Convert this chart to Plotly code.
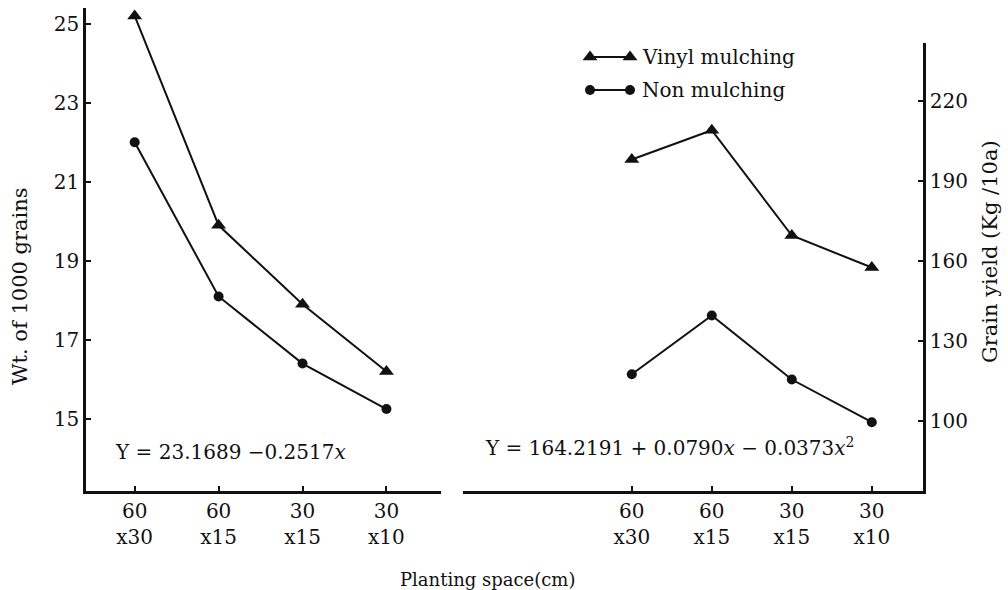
import plotly.graph_objects as go

# ---- data ----
spacing_labels = ["60<br>x30", "60<br>x15", "30<br>x15", "30<br>x10"]
positions = [0, 1, 2, 3]

wt_vinyl = [25.2, 19.9, 17.9, 16.2]
wt_non = [22.0, 18.1, 16.4, 15.25]

yield_vinyl = [198, 209, 169.5, 157.5]
yield_non = [117.5, 139.5, 115.5, 99.5]

series_names = ["Vinyl mulching", "Non mulching"]
eq_left = "Y = 23.1689 −0.2517<i>x</i>"
eq_right = "Y = 164.2191 + 0.0790<i>x</i> − 0.0373<i>x</i><sup>2</sup>"

W, H = 1008, 590
FONT = "DejaVu Serif"
BLACK = "#111111"

def px_x(p):
    return p / W

def px_y(p):
    return (H - p) / H

fig = go.Figure()

tri = dict(symbol="triangle-up", size=13, color=BLACK)
dot = dict(symbol="circle", size=10, color=BLACK)
line = dict(color=BLACK, width=2)

fig.add_trace(go.Scatter(x=positions, y=wt_vinyl, mode="lines+markers", marker=tri, line=line,
                         xaxis="x", yaxis="y", showlegend=False, name=series_names[0]))
fig.add_trace(go.Scatter(x=positions, y=wt_non, mode="lines+markers", marker=dot, line=line,
                         xaxis="x", yaxis="y", showlegend=False, name=series_names[1]))
fig.add_trace(go.Scatter(x=positions, y=yield_vinyl, mode="lines+markers", marker=tri, line=line,
                         xaxis="x2", yaxis="y2", showlegend=False, name=series_names[0]))
fig.add_trace(go.Scatter(x=positions, y=yield_non, mode="lines+markers", marker=dot, line=line,
                         xaxis="x2", yaxis="y2", showlegend=False, name=series_names[1]))

# custom legend (symbol - line - symbol), drawn on a pixel-space overlay axis
leg_x0, leg_x1 = 590, 630
leg_rows = [57, 90]
for name, mk, ly in zip(series_names, [tri, dot], leg_rows):
    fig.add_trace(go.Scatter(x=[leg_x0, leg_x1], y=[ly, ly], mode="lines+markers",
                             marker=mk, line=line, xaxis="x3", yaxis="y3",
                             showlegend=False, hoverinfo="skip"))
    fig.add_annotation(x=px_x(leg_x1 + 10), y=px_y(ly), xref="paper", yref="paper",
                       text=name, showarrow=False, xanchor="left", yanchor="middle",
                       font=dict(family=FONT, size=20, color=BLACK))

axis_common = dict(showgrid=False, zeroline=False, showline=True, linecolor=BLACK, linewidth=2.5,
                   ticks="inside", ticklen=5, tickwidth=1.5, tickcolor=BLACK,
                   tickfont=dict(family=FONT, size=20, color=BLACK))

fig.update_layout(
    width=W, height=H,
    margin=dict(l=0, r=0, t=0, b=0),
    paper_bgcolor="white", plot_bgcolor="rgba(0,0,0,0)",
    xaxis=dict(domain=[px_x(86), px_x(441)], range=[-0.58, 3.65], anchor="y",
               tickvals=positions, ticktext=spacing_labels, **axis_common),
    yaxis=dict(domain=[px_y(491), px_y(8)], range=[13.175, 25.40], anchor="x",
               tickvals=[15, 17, 19, 21, 23, 25], side="left", **axis_common),
    xaxis2=dict(domain=[px_x(463), px_x(923)], range=[-2.11, 3.64], anchor="y2",
                tickvals=positions, ticktext=spacing_labels, **axis_common),
    yaxis2=dict(domain=[px_y(491), px_y(43)], range=[73.7, 241.7], anchor="x2",
                tickvals=[100, 130, 160, 190, 220], side="right", **axis_common),
    xaxis3=dict(domain=[0, 1], range=[0, W], visible=False, fixedrange=True, anchor="y3"),
    yaxis3=dict(domain=[0, 1], range=[H, 0], visible=False, fixedrange=True, anchor="x3"),
    font=dict(family=FONT, color=BLACK, size=20),
)

# equations
fig.add_annotation(x=px_x(113), y=px_y(452), xref="paper", yref="paper", text=eq_left,
                   showarrow=False, xanchor="left", yanchor="middle",
                   font=dict(family=FONT, size=20, color=BLACK))
fig.add_annotation(x=px_x(483), y=px_y(447), xref="paper", yref="paper", text=eq_right,
                   showarrow=False, xanchor="left", yanchor="middle",
                   font=dict(family=FONT, size=20, color=BLACK))

# axis titles
fig.add_annotation(x=px_x(20), y=px_y(286), xref="paper", yref="paper", text="Wt. of 1000 grains",
                   showarrow=False, textangle=-90, xanchor="center", yanchor="middle",
                   font=dict(family=FONT, size=21, color=BLACK))
fig.add_annotation(x=px_x(990), y=px_y(252), xref="paper", yref="paper", text="Grain yield (Kg /10a)",
                   showarrow=False, textangle=-90, xanchor="center", yanchor="middle",
                   font=dict(family=FONT, size=21, color=BLACK))
fig.add_annotation(x=px_x(487), y=px_y(579), xref="paper", yref="paper", text="Planting space(cm)",
                   showarrow=False, xanchor="center", yanchor="middle",
                   font=dict(family=FONT, size=18, color=BLACK))

fig.write_html("out.html", config={"displayModeBar": False},
               post_script="document.body.style.margin='0';document.body.style.overflow='hidden';")
